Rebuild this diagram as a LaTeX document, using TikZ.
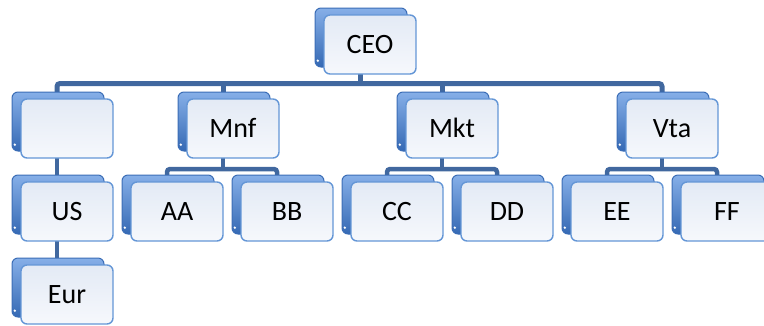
\documentclass[tikz,border=0pt]{standalone}
\usepackage{fontspec}
\setmainfont{Carlito}
\usetikzlibrary{calc,shadows,backgrounds}

\definecolor{linkblue}{HTML}{41689F}
\definecolor{backtop}{HTML}{86AFE8}
\definecolor{backbot}{HTML}{3569B4}
\definecolor{backedge}{HTML}{3B6DB6}
\definecolor{facetop}{HTML}{E3EAF5}
\definecolor{facebot}{HTML}{F6F8FC}
\definecolor{faceedge}{HTML}{6496D6}

\tikzset{
  orgbox/.style={
    rounded corners=6pt, draw=faceedge, line width=1.4pt,
    top color=facetop, bottom color=facebot,
    minimum width=92pt, minimum height=59pt, inner sep=0pt,
    text height=18pt, text depth=0pt,
    font=\fontsize{28}{30}\selectfont,
    general shadow={shadow xshift=-9pt, shadow yshift=7pt,
      top color=backtop, bottom color=backbot, draw=backedge, line width=1pt}
  },
  link/.style={draw=linkblue, line width=4.5pt, rounded corners=3pt},
  toplink/.style={link, line width=5pt}
}

\begin{document}
\begin{tikzpicture}[x=1pt, y=-1pt]
  \useasboundingbox (0,0) rectangle (764,325);

  % chief and first level
  \node[orgbox] (ceo) at (370,44.5) {CEO};
  \node[orgbox] (grp) at (67,128.5) {};
  \node[orgbox] (mnf) at (233,128.5) {Mnf};
  \node[orgbox] (mkt) at (452,128.5) {Mkt};
  \node[orgbox] (vta) at (672,128.5) {Vta};

  % second level
  \node[orgbox] (us) at (67,211.5) {US};
  \node[orgbox] (aa) at (177,211.5) {AA};
  \node[orgbox] (bb) at (287,211.5) {BB};
  \node[orgbox] (cc) at (397,211.5) {CC};
  \node[orgbox] (dd) at (507,211.5) {DD};
  \node[orgbox] (ee) at (617,211.5) {EE};
  \node[orgbox] (ff) at (727,211.5) {FF};

  % third level
  \node[orgbox] (eur) at (67,294.5) {Eur};

  % small highlight dot on each back plate
  \foreach \n in {ceo,grp,mnf,mkt,vta,us,aa,bb,cc,dd,ee,ff,eur}
    \fill[white] ($(\n.south west)+(-5.5,-14)$) circle (1.3pt);

  % connector anchors, on the centre line of the back plates
  \foreach \n in {ceo,grp,mnf,mkt,vta,us,aa,bb,cc,dd,ee,ff,eur}
    \coordinate (\n-c) at ($(\n.center)+(-10,0)$);
  \coordinate (topbar) at (0,83.5);
  \coordinate (subbar) at (0,169);

  \begin{pgfonlayer}{background}
    % chief to first level
    \draw[toplink] (grp-c) |- (vta-c |- topbar) -- (vta-c);
    \draw[toplink] (ceo-c) -- (ceo-c |- topbar);
    \draw[toplink] (mnf-c) -- (mnf-c |- topbar);
    \draw[toplink] (mkt-c) -- (mkt-c |- topbar);
    % left column
    \draw[link] (grp-c) -- (us-c) -- (eur-c);
    % departments to their units
    \draw[link] (aa-c) |- (bb-c |- subbar) -- (bb-c);
    \draw[link] (mnf-c) -- (mnf-c |- subbar);
    \draw[link] (cc-c) |- (dd-c |- subbar) -- (dd-c);
    \draw[link] (mkt-c) -- (mkt-c |- subbar);
    \draw[link] (ee-c) |- (ff-c |- subbar) -- (ff-c);
    \draw[link] (vta-c) -- (vta-c |- subbar);
  \end{pgfonlayer}
\end{tikzpicture}
\end{document}
